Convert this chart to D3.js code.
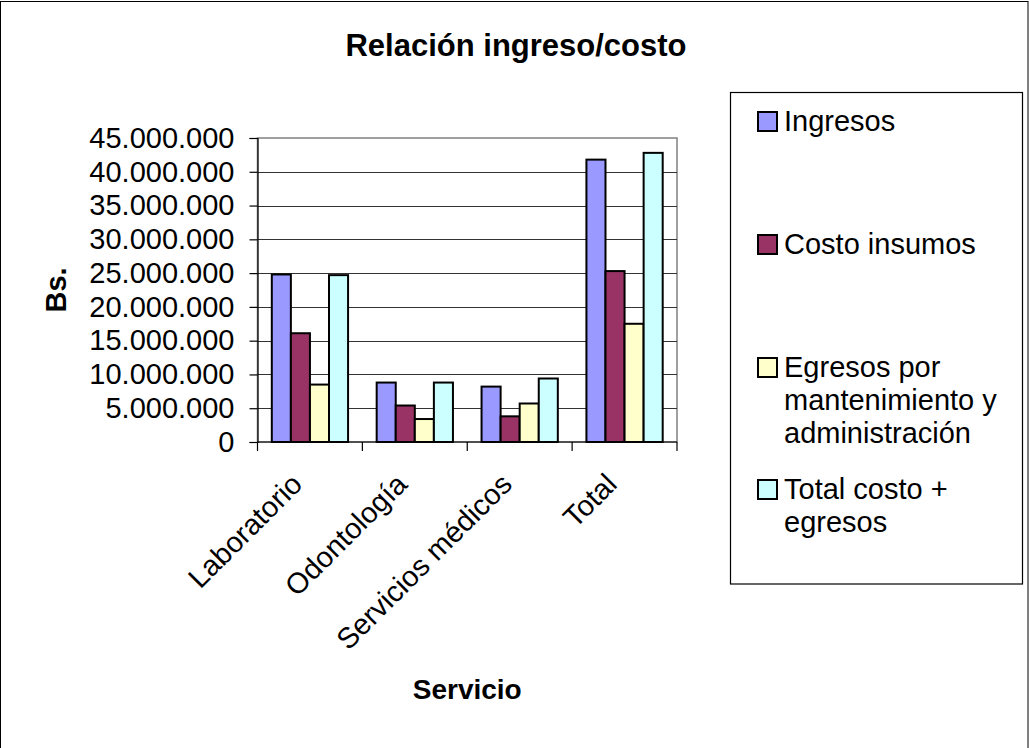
<!DOCTYPE html>
<html>
<head>
<meta charset="utf-8">
<script src="https://cdn.jsdelivr.net/npm/d3@7"></script>
<style>
  html, body { margin: 0; padding: 0; background: #fff; }
  svg { display: block; }
  text { font-family: "Liberation Sans", Arial, sans-serif; fill: #000; }
</style>
</head>
<body>
<svg id="chart" width="1029" height="748"></svg>
<script>
const categories = ["Laboratorio", "Odontología", "Servicios médicos", "Total"];
const seriesNames = ["Ingresos", "Costo insumos", "Egresos por mantenimiento y administración", "Total costo + egresos"];
const legendLines = [["Ingresos"], ["Costo insumos"], ["Egresos por", "mantenimiento y", "administración"], ["Total costo +", "egresos"]];
const ingresos = [24800000, 8800000, 8200000, 41800000];
const costoInsumos = [16100000, 5400000, 3800000, 25300000];
const egresosMant = [8500000, 3400000, 5700000, 17500000];
const totalCosto = [24700000, 8800000, 9400000, 42800000];
const yTicks = [0, 5000000, 10000000, 15000000, 20000000, 25000000, 30000000, 35000000, 40000000, 45000000];
const colors = ["#9999FF", "#993366", "#FFFFCC", "#CCFFFF"];
const title = "Relación ingreso/costo";
const yTitle = "Bs.";
const xTitle = "Servicio";

const seriesValues = [ingresos, costoInsumos, egresosMant, totalCosto];

const svg = d3.select("#chart");
const W = 1029, H = 748;

// outer chart border
svg.append("rect").attr("x", 0.5).attr("y", 1.5).attr("width", W - 1.5).attr("height", H + 20)
  .attr("fill", "#fff").attr("stroke", "#000").attr("stroke-width", 1);

const plot = { left: 257.5, right: 677, top: 138, bottom: 442 };

const locale = d3.formatLocale({ decimal: ",", thousands: ".", grouping: [3], currency: ["", ""] });
const fmt = locale.format(",d");

const x0 = d3.scaleBand().domain(categories).range([plot.left, plot.right]).padding(0);
const x1 = d3.scaleBand().domain(d3.range(seriesNames.length)).range([0, x0.bandwidth()])
  .paddingInner(0).paddingOuter(0.75);
const y = d3.scaleLinear().domain([0, 45000000]).range([plot.bottom, plot.top]);

// plot area border
svg.append("rect").attr("x", plot.left).attr("y", plot.top)
  .attr("width", plot.right - plot.left).attr("height", plot.bottom - plot.top)
  .attr("fill", "#fff").attr("stroke", "#808080").attr("stroke-width", 1.5);

// gridlines
svg.append("g").selectAll("line").data(yTicks.filter(d => d > 0 && d < 45000000)).join("line")
  .attr("x1", plot.left).attr("x2", plot.right)
  .attr("y1", d => Math.round(y(d)) + 0.5).attr("y2", d => Math.round(y(d)) + 0.5)
  .attr("stroke", "#333").attr("stroke-width", 1);

// bars
const groups = svg.append("g").selectAll("g").data(categories).join("g")
  .attr("transform", d => `translate(${x0(d)},0)`);
groups.selectAll("rect").data((c, ci) => seriesValues.map((vals, si) => ({ si, v: vals[ci] }))).join("rect")
  .attr("x", d => x1(d.si))
  .attr("width", x1.bandwidth())
  .attr("y", d => y(d.v))
  .attr("height", d => y(0) - y(d.v))
  .attr("fill", d => colors[d.si])
  .attr("stroke", "#000").attr("stroke-width", 2);

// y axis
const yAxis = d3.axisLeft(y).tickValues(yTicks).tickFormat(d => fmt(d)).tickSize(8).tickPadding(15);
const gy = svg.append("g").attr("transform", `translate(${plot.left},0)`).call(yAxis);
gy.select(".domain").attr("stroke", "#000").attr("stroke-width", 1.2);
gy.selectAll(".tick line").attr("stroke", "#000").attr("stroke-width", 1.2);
gy.selectAll(".tick text").attr("font-size", 29).attr("font-family", "Liberation Sans, Arial, sans-serif").attr("fill", "#000");

// x axis: ticks at category boundaries
const bounds = categories.map(c => x0(c)).concat([plot.right]);
const gx = svg.append("g");
gx.append("line").attr("x1", plot.left).attr("x2", plot.right)
  .attr("y1", plot.bottom).attr("y2", plot.bottom).attr("stroke", "#000").attr("stroke-width", 1.2);
gx.selectAll("line.tk").data(bounds).join("line").attr("class", "tk")
  .attr("x1", d => d).attr("x2", d => d).attr("y1", plot.bottom).attr("y2", plot.bottom + 9)
  .attr("stroke", "#000").attr("stroke-width", 1.2);
gx.selectAll("text").data(categories).join("text")
  .attr("transform", d => `translate(${x0(d) + x0.bandwidth() / 2 - 6},${plot.bottom + 44}) rotate(-45)`)
  .attr("text-anchor", "end")
  .attr("font-size", 29)
  .text(d => d);

// titles
svg.append("text").attr("x", 516).attr("y", 56).attr("text-anchor", "middle")
  .attr("font-size", 31).attr("font-weight", "bold").text(title);
svg.append("text").attr("transform", `translate(66,${(plot.top + plot.bottom) / 2}) rotate(-90)`)
  .attr("text-anchor", "middle").attr("font-size", 29).attr("font-weight", "bold").text(yTitle);
svg.append("text").attr("x", (plot.left + plot.right) / 2).attr("y", 699).attr("text-anchor", "middle")
  .attr("font-size", 28).attr("font-weight", "bold").text(xTitle);

// legend
const lg = svg.append("g");
lg.append("rect").attr("x", 730.5).attr("y", 92.5).attr("width", 292).attr("height", 491.5)
  .attr("fill", "#fff").attr("stroke", "#000").attr("stroke-width", 1.2);
const legendSquareY = [112, 235, 358, 480];
const items = lg.selectAll("g.item").data(seriesNames).join("g").attr("class", "item")
  .attr("transform", (d, i) => `translate(758,${legendSquareY[i]})`);
items.append("rect").attr("width", 19).attr("height", 19)
  .attr("fill", (d, i) => colors[i]).attr("stroke", "#000").attr("stroke-width", 2);
items.each(function (d, i) {
  const t = d3.select(this).append("text").attr("x", 26).attr("y", 19).attr("font-size", 29);
  legendLines[i].forEach((ln, k) => {
    t.append("tspan").attr("x", 26).attr("y", 19 + k * 33).text(ln);
  });
});
</script>
</body>
</html>
